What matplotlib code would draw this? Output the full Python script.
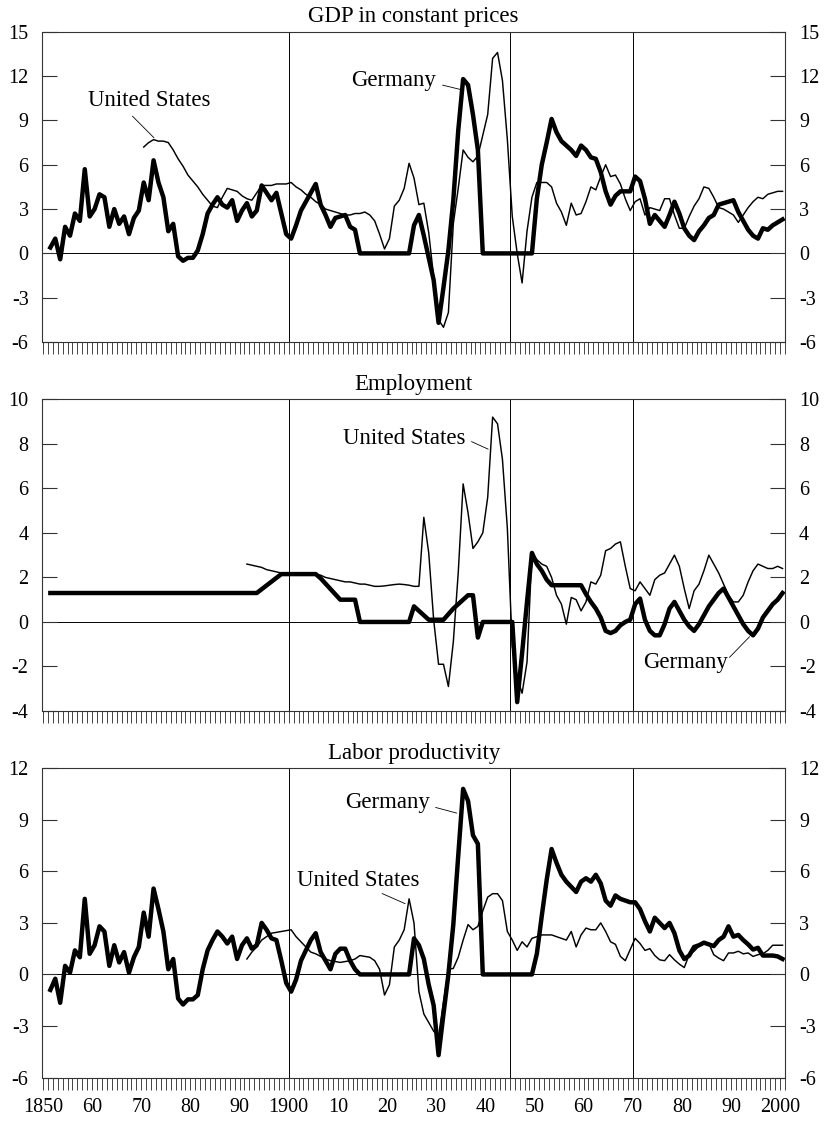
import numpy as np
import matplotlib
matplotlib.use('Agg')
import matplotlib.pyplot as plt

plt.rcParams['font.family'] = ['Liberation Serif', 'DejaVu Serif']
plt.rcParams['axes.unicode_minus'] = False

# ---- data (annual growth rates, %) ----
gdp_de_start = 1851
gdp_de = [
    0.4, 1.0, -0.4, 1.8, 1.2, 2.7, 2.2, 5.7, 2.5, 3.0,      # 1851-1860
    4.0, 3.8, 1.8, 3.0, 2.0, 2.5, 1.3, 2.4, 2.9, 4.8,       # 1861-1870
    3.6, 6.3, 4.8, 3.8, 1.5, 2.0, -0.2, -0.5, -0.3, -0.3,   # 1871-1880
    0.2, 1.3, 2.7, 3.3, 3.8, 3.3, 3.1, 3.6, 2.2, 2.9,       # 1881-1890
    3.4, 2.5, 2.9, 4.6, 4.1, 3.6, 4.1, 2.7, 1.3, 1.0,       # 1891-1900
    1.9, 2.9, 3.5, 4.1, 4.7, 3.3, 2.6, 1.8, 2.4, 2.5,       # 1901-1910
    2.6, 1.8, 1.6, 0.0, 0.0, 0.0, 0.0, 0.0, 0.0, 0.0,       # 1911-1920
    0.0, 0.0, 0.0, 0.0, 1.9, 2.6, 1.2, -0.3, -1.8, -4.7,    # 1921-1930
    -2.3, 0.2, 3.6, 8.3, 11.8, 11.4, 9.4, 7.0, 0.0, 0.0,    # 1931-1940
    0.0, 0.0, 0.0, 0.0, 0.0, 0.0, 0.0, 0.0, 0.0, 3.7,       # 1941-1950
    6.0, 7.5, 9.1, 8.2, 7.6, 7.3, 7.0, 6.6, 7.3, 7.0,       # 1951-1960
    6.5, 6.4, 5.5, 4.2, 3.3, 3.9, 4.2, 4.2, 4.2, 5.2,       # 1961-1970
    4.9, 3.7, 2.0, 2.6, 2.2, 1.8, 2.6, 3.5, 2.7, 1.7,       # 1971-1980
    1.2, 0.9, 1.5, 1.9, 2.4, 2.6, 3.3, 3.4, 3.5, 3.6,       # 1981-1990
    2.8, 2.2, 1.6, 1.2, 1.0, 1.7, 1.6, 1.9, 2.1, 2.3,       # 1991-2000
]
gdp_us_start = 1870
gdp_us = [
    7.2, 7.5, 7.7, 7.6, 7.6, 7.5, 7.0, 6.4, 5.9, 5.3,       # 1870-1879
    4.9, 4.5, 4.0, 3.6, 3.2, 3.1, 3.8, 4.4, 4.3, 4.2,       # 1880-1889
    3.9, 3.7, 3.6, 4.1, 4.6, 4.6, 4.6, 4.7, 4.7, 4.7,       # 1890-1899
    4.8, 4.5, 4.3, 4.0, 3.8, 3.5, 3.3, 3.0, 2.9, 2.8,       # 1900-1909
    2.7, 2.6, 2.6, 2.7, 2.7, 2.8, 2.6, 2.2, 1.3, 0.3,       # 1910-1919
    1.0, 3.2, 3.6, 4.4, 6.1, 5.1, 3.3, 3.4, 1.4, -1.6,      # 1920-1929
    -4.5, -5.0, -4.0, 2.0, 4.4, 7.0, 6.5, 6.2, 6.6, 8.0,    # 1930-1939
    9.4, 13.2, 13.6, 11.7, 7.7, 2.5, 0.0, -2.0, 1.5, 3.8,   # 1940-1949
    4.8, 4.8, 4.8, 4.5, 3.4, 2.8, 1.9, 3.4, 2.6, 2.7,       # 1950-1959
    3.5, 4.5, 4.3, 5.2, 6.0, 5.2, 5.3, 4.7, 3.7, 2.9,       # 1960-1969
    3.5, 3.7, 2.6, 3.1, 3.0, 2.9, 3.7, 3.7, 2.6, 1.7,       # 1970-1979
    1.7, 2.5, 3.2, 3.7, 4.5, 4.4, 3.8, 3.1, 3.0, 2.8,       # 1980-1989
    2.6, 2.1, 2.6, 3.1, 3.5, 3.8, 3.7, 4.0, 4.1, 4.2,       # 1990-1999
    4.2,                                                    # 2000
]

emp_de_start = 1851
emp_de = [
    1.3, 1.3, 1.3, 1.3, 1.3, 1.3, 1.3, 1.3, 1.3, 1.3,       # 1851-1860
    1.3, 1.3, 1.3, 1.3, 1.3, 1.3, 1.3, 1.3, 1.3, 1.3,       # 1861-1870
    1.3, 1.3, 1.3, 1.3, 1.3, 1.3, 1.3, 1.3, 1.3, 1.3,       # 1871-1880
    1.3, 1.3, 1.3, 1.3, 1.3, 1.3, 1.3, 1.3, 1.3, 1.3,       # 1881-1890
    1.3, 1.3, 1.3, 1.47, 1.64, 1.81, 1.98, 2.15, 2.15, 2.15,  # 1891-1900
    2.15, 2.15, 2.15, 2.15, 2.15, 1.96, 1.72, 1.48, 1.24, 1.0,  # 1901-1910
    1.0, 1.0, 1.0, 0.0, 0.0, 0.0, 0.0, 0.0, 0.0, 0.0,       # 1911-1920
    0.0, 0.0, 0.0, 0.0, 0.7, 0.5, 0.3, 0.1, 0.1, 0.1,       # 1921-1930
    0.1, 0.35, 0.6, 0.8, 1.0, 1.2, 1.2, -0.7, 0.0, 0.0,     # 1931-1940
    0.0, 0.0, 0.0, 0.0, 0.0, -3.6, -1.4, 0.9, 3.1, 2.6,     # 1941-1950
    2.3, 1.9, 1.65, 1.65, 1.65, 1.65, 1.65, 1.65, 1.65, 1.25,  # 1951-1960
    0.9, 0.6, 0.2, -0.4, -0.5, -0.4, -0.15, 0.0, 0.1, 0.8,  # 1961-1970
    1.05, 0.1, -0.4, -0.6, -0.6, -0.1, 0.6, 0.9, 0.5, 0.1,  # 1971-1980
    -0.2, -0.4, -0.1, 0.3, 0.7, 1.0, 1.3, 1.5, 1.1, 0.7,    # 1981-1990
    0.3, -0.1, -0.4, -0.6, -0.3, 0.2, 0.5, 0.8, 1.0, 1.3,   # 1991-2000
]
emp_us_start = 1891
emp_us = [
    2.6, 2.55, 2.5, 2.45, 2.35, 2.3, 2.25, 2.2, 2.15,       # 1891-1899
    2.15, 2.15, 2.15, 2.15, 2.15, 2.15, 2.1, 2.0, 1.95, 1.9,  # 1900-1909
    1.85, 1.8, 1.8, 1.75, 1.7, 1.7, 1.65, 1.6, 1.6, 1.62,   # 1910-1919
    1.65, 1.68, 1.7, 1.68, 1.65, 1.6, 1.6, 4.7, 3.1, 0.1,   # 1920-1929
    -1.9, -1.9, -2.9, -0.9, 2.2, 6.2, 4.9, 3.3, 3.6, 4.0,   # 1930-1939
    5.6, 9.2, 8.9, 7.3, 4.2, -1.1, -2.5, -3.2, -1.8, 3.1,   # 1940-1949
    2.8, 2.6, 2.5, 2.0, 1.2, 0.8, -0.1, 1.1, 1.0, 0.5,      # 1950-1959
    0.9, 1.8, 1.7, 2.1, 3.2, 3.3, 3.5, 3.6, 2.5, 1.5,       # 1960-1969
    1.4, 1.8, 1.5, 1.2, 1.9, 2.1, 2.2, 2.6, 3.0, 2.5,       # 1970-1979
    1.5, 0.6, 1.4, 1.7, 2.3, 3.0, 2.6, 2.2, 1.7, 1.2,       # 1980-1989
    0.9, 0.9, 1.2, 1.8, 2.3, 2.6, 2.5, 2.4, 2.4, 2.5,       # 1990-1999
    2.4,                                                    # 2000
]

prod_de_start = 1851
prod_de = [
    -0.9, -0.25, -1.65, 0.5, 0.1, 1.4, 1.0, 4.4, 1.2, 1.7,  # 1851-1860
    2.8, 2.5, 0.5, 1.7, 0.7, 1.3, 0.1, 1.0, 1.6, 3.6,       # 1861-1870
    2.2, 5.0, 3.8, 2.5, 0.3, 0.9, -1.4, -1.75, -1.45, -1.45,  # 1871-1880
    -1.2, 0.3, 1.4, 2.0, 2.5, 2.2, 1.8, 2.2, 0.9, 1.7,      # 1881-1890
    2.1, 1.5, 1.7, 3.0, 2.6, 2.1, 2.0, 0.8, -0.5, -1.0,     # 1891-1900
    -0.3, 0.8, 1.4, 2.0, 2.4, 1.3, 0.8, 0.3, 1.2, 1.5,      # 1901-1910
    1.5, 0.8, 0.3, 0.0, 0.0, 0.0, 0.0, 0.0, 0.0, 0.0,       # 1911-1920
    0.0, 0.0, 0.0, 0.0, 2.1, 1.7, 0.9, -0.6, -1.8, -4.7,    # 1921-1930
    -2.3, 0.0, 2.9, 6.9, 10.8, 10.1, 8.1, 7.6, 0.0, 0.0,    # 1931-1940
    0.0, 0.0, 0.0, 0.0, 0.0, 0.0, 0.0, 0.0, 0.0, 1.2,       # 1941-1950
    3.4, 5.5, 7.3, 6.5, 5.8, 5.4, 5.1, 4.8, 5.4, 5.6,       # 1951-1960
    5.4, 5.8, 5.3, 4.3, 4.0, 4.6, 4.4, 4.3, 4.2, 4.2,       # 1961-1970
    3.8, 3.1, 2.5, 3.3, 3.0, 2.7, 3.0, 2.4, 1.4, 0.9,       # 1971-1980
    1.1, 1.6, 1.7, 1.85, 1.75, 1.65, 2.0, 2.2, 2.8, 2.2,    # 1981-1990
    2.3, 2.0, 1.75, 1.45, 1.55, 1.1, 1.1, 1.1, 1.05, 0.9,   # 1991-2000
]
prod_us_start = 1891
prod_us = [
    0.9, 1.3, 1.6, 2.0, 2.2, 2.4, 2.45, 2.5, 2.55,          # 1891-1899
    2.6, 2.2, 1.9, 1.6, 1.3, 1.2, 1.05, 0.9, 0.8, 0.75,     # 1900-1909
    0.7, 0.75, 0.8, 0.9, 1.1, 1.05, 1.0, 0.8, 0.3, -1.2,    # 1910-1919
    -0.6, 1.6, 2.0, 2.6, 4.4, 3.0, -1.0, -2.3, -2.8, -3.3,  # 1920-1929
    -3.6, -1.6, 0.3, 0.35, 1.0, 2.0, 2.9, 2.6, 2.8, 3.7,    # 1930-1939
    4.5, 4.7, 4.7, 4.3, 2.5, 2.0, 1.4, 1.9, 1.6, 2.1,       # 1940-1949
    2.2, 2.3, 2.3, 2.3, 2.2, 2.1, 2.0, 2.5, 1.6, 2.3,       # 1950-1959
    2.7, 2.6, 2.6, 3.0, 2.5, 1.9, 1.75, 1.05, 0.8, 1.45,    # 1960-1969
    2.1, 1.8, 1.4, 1.5, 1.1, 0.85, 0.8, 1.15, 0.85, 0.6,    # 1970-1979
    0.4, 1.15, 1.35, 1.65, 1.85, 1.8, 1.15, 0.95, 0.8, 1.25,  # 1980-1989
    1.25, 1.35, 1.2, 1.25, 1.05, 1.15, 1.2, 1.4, 1.7, 1.7,  # 1990-1999
    1.7,                                                    # 2000
]

decade_labels = ['1850', '60', '70', '80', '90', '1900', '10', '20', '30', '40',
                 '50', '60', '70', '80', '90', '2000']
marker_years = [1900, 1945, 1970]

# label text, text position, leader start, leader end (data coords)
gdp_notes = [('United States', (1871.7, 10.37), (1868.2, 9.29), (1872.6, 7.82)),
             ('Germany', (1921.3, 11.73), (1931.3, 11.39), (1934.9, 11.10))]
emp_notes = [('United States', (1923.5, 8.25), (1937.2, 8.10), (1940.6, 7.76)),
             ('Germany', (1980.8, -1.80), (1989.7, -1.59), (1993.8, -0.66))]
prod_notes = [('Germany', (1920.1, 10.01), (1929.9, 9.72), (1934.2, 9.39)),
              ('United States', (1914.2, 5.44), (1919.0, 4.71), (1923.7, 4.12))]

MID = 0.5  # values sit at the middle of each year


def draw_panel(ax, title, de_start, de, us_start, us, ylim, ystep, notes, bottom=False):
    de_years = np.arange(de_start, de_start + len(de)) + MID
    us_years = np.arange(us_start, us_start + len(us)) + MID

    ax.axhline(0, color='black', lw=0.7, zorder=1)
    for yr in marker_years:
        ax.axvline(yr, color='black', lw=0.7, zorder=1)

    ax.plot(us_years, us, color='black', lw=1.05, zorder=3)
    ax.plot(de_years, de, color='black', lw=3.2, zorder=4)

    for text, pos, start, end in notes:
        ax.text(pos[0], pos[1], text, ha='center', va='center', fontsize=16.5)
        ax.annotate('', xy=end, xytext=start,
                    arrowprops=dict(arrowstyle='-', lw=0.6, color='black',
                                    shrinkA=0, shrinkB=0))

    ax.set_xlim(1849.9, 2001)
    ax.set_ylim(*ylim)
    ax.set_yticks(np.arange(ylim[0], ylim[1] + 1, ystep))
    ax.tick_params(axis='y', direction='in', length=11, width=0.8, color='#333',
                   left=True, right=True, labelleft=True, labelright=True,
                   labelsize=14.5, pad=10)

    ax.set_xticks(np.arange(1850, 2002))
    labels = [''] * len(ax.get_xticks())
    if bottom:
        for i, lab in enumerate(decade_labels):
            labels[i * 10] = lab
    ax.set_xticklabels(labels)
    ax.tick_params(axis='x', direction='out', length=8.5, width=0.7, color='#444',
                   labelsize=14.5, pad=6)

    for sp in ax.spines.values():
        sp.set_linewidth(0.8)
        sp.set_color('#333')
    ax.set_title(title, fontsize=16.5, pad=7)


fig = plt.figure(figsize=(8.29, 11.27), dpi=100)
left, width = 42.5 / 829, 742.5 / 829
ax1 = fig.add_axes([left, 0.6965, width, 0.2753])
ax2 = fig.add_axes([left, 0.3691, width, 0.2766])
ax3 = fig.add_axes([left, 0.0439, width, 0.2744])

draw_panel(ax1, 'GDP in constant prices', gdp_de_start, gdp_de, gdp_us_start, gdp_us,
           (-6, 15), 3, gdp_notes)
draw_panel(ax2, 'Employment', emp_de_start, emp_de, emp_us_start, emp_us,
           (-4, 10), 2, emp_notes)
draw_panel(ax3, 'Labor productivity', prod_de_start, prod_de, prod_us_start, prod_us,
           (-6, 12), 3, prod_notes, bottom=True)

fig.savefig('out.png', dpi=100)
